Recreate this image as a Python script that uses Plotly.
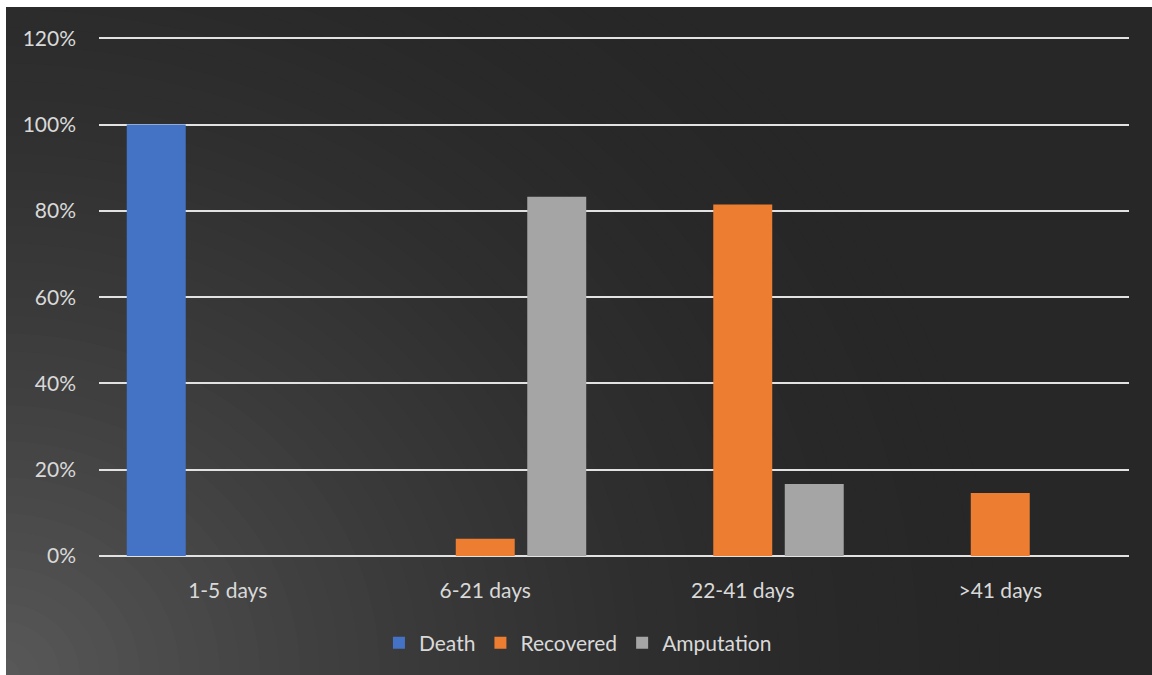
import plotly.graph_objects as go

categories = ["1-5 days", "6-21 days", "22-41 days", ">41 days"]
death = [1.00, 0, 0, 0]
recovered = [0, 0.04, 0.815, 0.146]
amputation = [0, 0.833, 0.167, 0]

W, H = 1152, 675
L, R, T, B = 99, 23, 34, 119
PW, PH = W - L - R, H - T - B
YMAX = 1.21


def px(x):
    return (x - L) / PW


def py(y):
    return (H - B - y) / PH


fig = go.Figure()
fig.add_bar(name="Death", x=categories, y=death, marker=dict(color="#4472c4", line=dict(width=0)))
fig.add_bar(name="Recovered", x=categories, y=recovered, marker=dict(color="#ed7d31", line=dict(width=0)))
fig.add_bar(name="Amputation", x=categories, y=amputation, marker=dict(color="#a5a5a5", line=dict(width=0)))

shapes = []
N = 50
cx, cy = 0, H
rx0, ry0 = 1000, 900
light, dark = 0x5a, 0x27
for i in range(N):
    f = 1 - i / N
    rx, ry = rx0 * f, ry0 * f
    t = (1 - f) ** 1.8
    v = int(round(dark + (light - dark) * t))
    col = f"rgb({v},{v},{v})"
    shapes.append(dict(type="circle", xref="paper", yref="paper",
                       x0=px(cx - rx), x1=px(cx + rx), y0=py(cy + ry), y1=py(cy - ry),
                       fillcolor=col, line=dict(width=0), layer="below"))
# white border strips
shapes.append(dict(type="rect", xref="paper", yref="paper", x0=px(-5), x1=px(W + 5), y0=py(7), y1=py(-5),
                   fillcolor="white", line=dict(width=0), layer="below"))
shapes.append(dict(type="rect", xref="paper", yref="paper", x0=px(-5), x1=px(6), y0=py(H + 5), y1=py(-5),
                   fillcolor="white", line=dict(width=0), layer="below"))

fig.update_layout(
    width=W, height=H,
    margin=dict(l=L, r=R, t=T, b=B),
    paper_bgcolor="#272727",
    plot_bgcolor="rgba(0,0,0,0)",
    barmode="group",
    bargap=0.167,
    bargroupgap=0.175,
    font=dict(family="Lato, Open Sans, sans-serif", color="#d9d9d9", size=21),
    shapes=shapes,
    legend=dict(orientation="h", x=0.465, xanchor="center", y=py(643), yanchor="middle",
                font=dict(size=21, color="#d9d9d9"), itemwidth=30, bgcolor="rgba(0,0,0,0)",
                traceorder="normal"),
    showlegend=True,
)
fig.update_yaxes(range=[0, YMAX], tickvals=[0, 0.2, 0.4, 0.6, 0.8, 1.0, 1.2], tickformat=".0%",
                 showgrid=True,
                 gridcolor="#e2e2e2", gridwidth=2, zeroline=True, zerolinecolor="#e2e2e2",
                 zerolinewidth=2, showline=False, ticks="", ticklabelstandoff=22,
                 tickfont=dict(size=21, color="#d9d9d9"))
fig.update_xaxes(showgrid=False, showline=False, ticks="", ticklabelstandoff=20,
                 tickfont=dict(size=21, color="#d9d9d9"))

fig.write_html("out.html")
